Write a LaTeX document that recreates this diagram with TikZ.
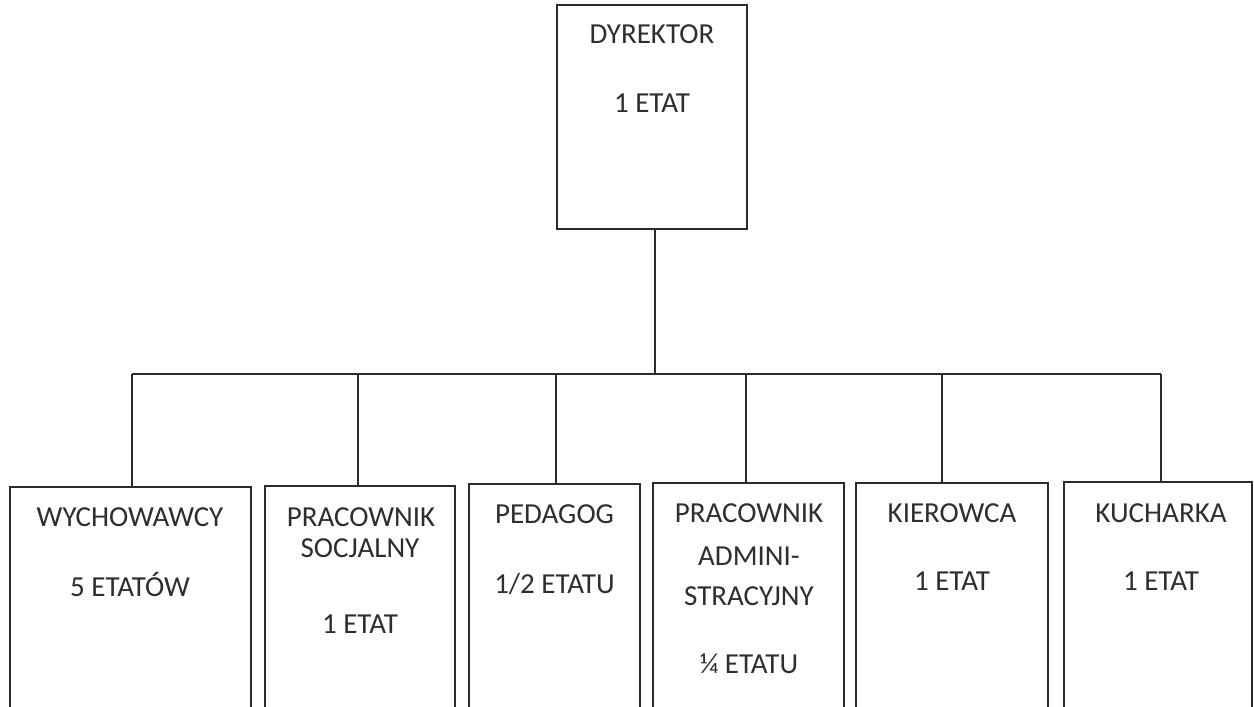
\documentclass[tikz,border=0pt]{standalone}
\usepackage{fontspec}
\setmainfont{Carlito}
\definecolor{ink}{HTML}{2B2B2B}
\definecolor{txtc}{HTML}{2E2E2E}
\begin{document}
\begin{tikzpicture}[x=1pt,y=-1pt,
  box/.style={draw=ink,line width=1.8pt,rectangle,inner sep=0pt,outer sep=0pt,anchor=north west},
  txt/.style={text=txtc,inner sep=0pt,anchor=base,font=\fontsize{29}{33}\selectfont},
  conn/.style={draw=ink,line width=1.6pt}]
\useasboundingbox (0,0) rectangle (1254,707);
\clip (0,0) rectangle (1254,707);
\fill[white] (0,0) rectangle (1254,707);
% boxes
\node[box,minimum width=190pt,minimum height=224pt] (dyr) at (557,5) {};
\node[box,minimum width=241pt,minimum height=260pt] (w) at (10,487) {};
\node[box,minimum width=190pt,minimum height=260pt] (s) at (265,486) {};
\node[box,minimum width=171pt,minimum height=260pt] (p) at (469,484) {};
\node[box,minimum width=191pt,minimum height=260pt] (a) at (653,483) {};
\node[box,minimum width=192pt,minimum height=260pt] (k) at (856,483) {};
\node[box,minimum width=188pt,minimum height=260pt] (u) at (1064,482) {};
% texts
\node[txt] (dyr1) at (652,43) {DYREKTOR};
\node[txt] (dyr2) at (652,112) {1 ETAT};
\node[txt] (w1) at (130,526) {WYCHOWAWCY};
\node[txt] (w2) at (130,596) {5 ETATÓW};
\node[txt] (s1) at (361,526) {PRACOWNIK};
\node[txt] (s2) at (360,557) {SOCJALNY};
\node[txt] (s3) at (360,633) {1 ETAT};
\node[txt] (p1) at (554.5,523) {PEDAGOG};
\node[txt] (p2) at (554.5,593) {1/2 ETATU};
\node[txt] (a1) at (749,522) {PRACOWNIK};
\node[txt] (a2) at (749,565) {ADMINI-};
\node[txt] (a3) at (749,605) {STRACYJNY};
\node[txt] (a4) at (749,673) {¼ ETATU};
\node[txt] (k1) at (952,522) {KIEROWCA};
\node[txt] (k2) at (952,590) {1 ETAT};
\node[txt] (u1) at (1161,522) {KUCHARKA};
\node[txt] (u2) at (1161,590) {1 ETAT};
% connectors
\coordinate (busL) at (132,374);
\coordinate (busR) at (1161,374);
\draw[conn] (busL) -- (busR);
\draw[conn] ([xshift=3pt]dyr.south) -- ([xshift=3pt]dyr.south |- busL);
\draw[conn] ([xshift=1.5pt]w.north) -- ([xshift=1.5pt]w.north |- busL);
\draw[conn] ([xshift=-2pt]s.north) -- ([xshift=-2pt]s.north |- busL);
\draw[conn] ([xshift=1.5pt]p.north) -- ([xshift=1.5pt]p.north |- busL);
\draw[conn] ([xshift=-2.5pt]a.north) -- ([xshift=-2.5pt]a.north |- busL);
\draw[conn] ([xshift=-10pt]k.north) -- ([xshift=-10pt]k.north |- busL);
\draw[conn] ([xshift=3pt]u.north) -- ([xshift=3pt]u.north |- busL);
\end{tikzpicture}
\end{document}
